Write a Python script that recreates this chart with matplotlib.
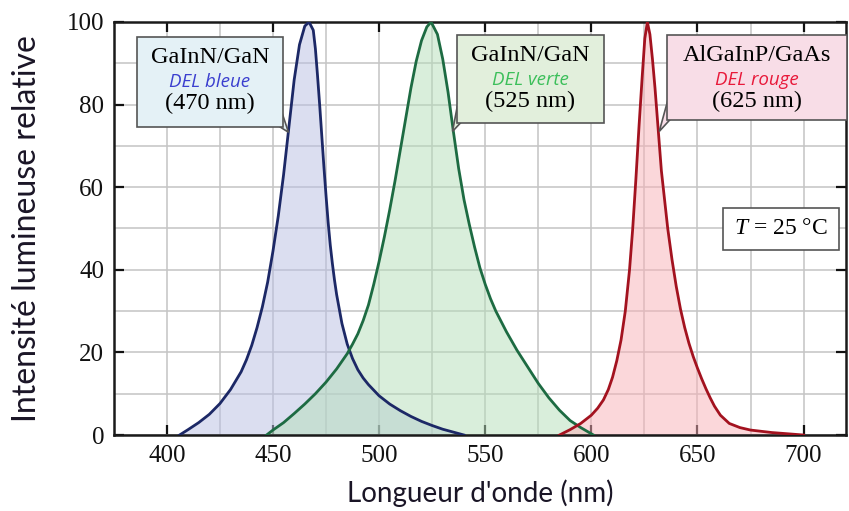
import matplotlib
matplotlib.use('Agg')
import matplotlib.pyplot as plt
from matplotlib.patches import Rectangle, Polygon
from matplotlib.ticker import MultipleLocator

# spectres (longueur d'onde en nm, intensité relative en %)
bleue_nm = [406, 410, 415, 420, 425, 430, 435, 437.5, 440, 442.5, 445, 447.5, 450, 452.5, 455,
            457.5, 460, 462.5, 465, 467, 469, 470, 471, 472, 473, 474, 475, 476, 477, 478, 479,
            480, 482.5, 485, 487.5, 490, 492.5, 495, 500, 505, 510, 515, 520, 525, 530, 535, 540]
bleue_i = [0, 1.3, 3, 5, 7.6, 11, 15.3, 18.2, 21.7, 26, 31, 37, 44.5, 53, 63,
           74.5, 86, 94.5, 99, 100, 98, 93.5, 87, 80, 72.5, 65, 58, 51.5, 46, 41.5, 37.5,
           34, 27, 22, 18.5, 15.8, 13.8, 12.2, 9.5, 7.5, 5.9, 4.5, 3.3, 2.3, 1.4, 0.7, 0]

verte_nm = [447, 450, 455, 460, 465, 470, 475, 480, 485, 487.5, 490, 492.5, 495, 497.5, 500,
            502.5, 505, 507.5, 510, 512.5, 515, 517.5, 520, 522.5, 524.5, 527.5, 530, 532.5,
            535, 537.5, 540, 542.5, 545, 547.5, 550, 552.5, 555, 560, 565, 570, 575, 580, 585,
            590, 595, 601]
verte_i = [0, 1.2, 3, 5.2, 7.5, 10, 12.8, 16, 19.7, 22, 24.5, 27.7, 31.5, 36.5, 42,
           48, 54.5, 61.5, 69, 76.5, 84, 90.5, 95.5, 98.8, 100, 97, 91, 83,
           73.5, 64.5, 57, 51, 45.5, 40.5, 36.5, 33, 30, 25, 20.5, 16.5, 12.5, 9, 6,
           3.5, 1.8, 0]

rouge_nm = [585, 590, 595, 600, 603, 605.7, 608, 610, 612, 614, 616, 618, 619.5, 621, 622.5, 624,
            625.2, 626.4, 627.6, 628.8, 630, 631.5, 633, 634.5, 636, 638, 640, 642, 644, 646,
            648, 650, 652, 654, 656, 658, 660.8, 665, 670, 675, 685, 700]
rouge_i = [0, 1.3, 2.8, 4.8, 6.5, 8.5, 11, 14, 18, 23, 30, 40, 50, 62, 75, 87,
           96, 100, 97, 91, 84, 74, 64, 57, 50, 42.5, 36, 30.5, 26, 22.2,
           19, 16.2, 13.6, 11.2, 9, 7, 4.8, 2.8, 1.8, 1.2, 0.6, 0]

serif = 'Liberation Serif'
sans = 'Lato'
plt.rcParams['mathtext.fontset'] = 'custom'
plt.rcParams['mathtext.rm'] = serif
plt.rcParams['mathtext.it'] = serif + ':italic'

fig = plt.figure(figsize=(8.49, 5.11), dpi=100)
ax = fig.add_axes([0.134, 0.1487, 0.8625, 0.8083])

spectres = [
    (bleue_nm, bleue_i, '#1c2866', '#b9bfe3'),
    (verte_nm, verte_i, '#1d6b42', '#b5deb9'),
    (rouge_nm, rouge_i, '#a3121f', '#f9b0b7'),
]
for nm, inten, c, fc in spectres:
    ax.fill_between(nm, inten, 0, color=fc, alpha=0.5, lw=0, zorder=2)
    ax.plot(nm, inten, color=c, lw=2, zorder=3)

ax.set_xlim(375, 720)
ax.set_ylim(0, 100)
ax.xaxis.set_major_locator(MultipleLocator(50))
ax.xaxis.set_minor_locator(MultipleLocator(25))
ax.yaxis.set_major_locator(MultipleLocator(20))
ax.yaxis.set_minor_locator(MultipleLocator(10))
ax.grid(which='both', color='#c4c4c4', lw=1.1, zorder=0)
ax.set_axisbelow(True)
ax.tick_params(which='major', direction='in', length=7, width=1.6, top=True, right=True,
               labelsize=18, pad=7, colors='#111111')
ax.tick_params(which='minor', length=0)
for lab in ax.get_xticklabels() + ax.get_yticklabels():
    lab.set_fontfamily(serif)
for s in ax.spines.values():
    s.set_linewidth(1.8)
    s.set_color('#1a1a1a')

ax.set_xlabel("Longueur d'onde (nm)", fontfamily=sans, fontsize=20, color='#1a1526', va='center')
ax.set_ylabel("Intensité lumineuse relative", fontfamily=sans, fontsize=23, color='#1a1526', va='center')
ax.xaxis.set_label_coords(0.5, -0.14)
ax.yaxis.set_label_coords(-0.119, 0.5)

# étiquettes en bulle
boites = [
    # x0, x1, y0, y1, fond, pointe, titre, sous-titre, couleur
    (386.0, 454.7, 74.6, 96.4, '#e4f1f6', [(449, 76), (453, 80), (457.3, 73.3)],
     'GaInN/GaN', 'DEL bleue', '#3b3fcf', '(470 nm)'),
    (536.7, 605.8, 75.5, 96.9, '#e2efdc', [(537, 80), (541, 77), (534.6, 73.5)],
     'GaInN/GaN', 'DEL verte', '#3cbf5a', '(525 nm)'),
    (635.7, 720.5, 76.3, 96.9, '#f8dde7', [(636, 81), (640, 78), (632.0, 73.5)],
     'AlGaInP/GaAs', 'DEL rouge', '#e8193a', '(625 nm)'),
]
for x0, x1, y0, y1, fc, tri, t1, t2, c2, t3 in boites:
    ax.add_patch(Polygon(tri, closed=True, fc=fc, ec='#555555', lw=1.2, zorder=4))
    ax.add_patch(Rectangle((x0, y0), x1 - x0, y1 - y0, fc=fc, ec='#555555', lw=1.2, zorder=5,
                           clip_on=False))
    xc = (x0 + min(x1, 720)) / 2
    ax.text(xc, y1 - 5.0, t1, ha='center', va='center', fontfamily=serif, fontsize=17.5, zorder=6)
    ax.text(xc, y1 - 11.0, t2, ha='center', va='center', fontfamily='Open Sans', style='italic',
            fontsize=13.5, color=c2, zorder=6)
    ax.text(xc, y1 - 16.2, t3, ha='center', va='center', fontfamily=serif, fontsize=17.5, zorder=6)

ax.add_patch(Rectangle((661.9, 44.8), 716.5 - 661.9, 55.0 - 44.8, fc='white', ec='#555555',
                       lw=1.2, zorder=5))
ax.text(689.2, 49.9, r'$T$ = 25 °C', ha='center', va='center', fontfamily=serif,
        fontsize=17, zorder=6)

fig.savefig('out.png', dpi=100)
